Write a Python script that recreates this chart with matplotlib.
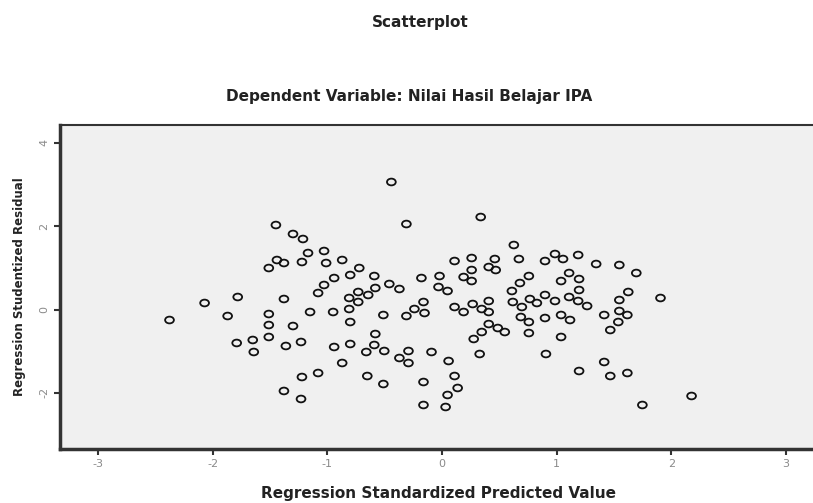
import numpy as np
import matplotlib
matplotlib.use("Agg")
import matplotlib.pyplot as plt
from matplotlib.path import Path
from matplotlib.transforms import Affine2D

plt.rcParams['font.family'] = ['Liberation Sans', 'DejaVu Sans']
plt.rcParams['axes.unicode_minus'] = False

# regression standardized predicted value (x) and studentized residual (y)
pred = [
    -2.377, -2.071, -1.782, -1.870, -1.511, -1.511, -1.511, -1.300, -1.791, -1.651,
    -1.642, -1.362, -1.230, -1.222, -1.081, -1.379, -1.230, -1.379, -1.151, -1.081,
    -1.029, -1.449, -1.300, -1.213, -1.169, -1.029, -1.440, -1.379, -1.511, -1.222,
    -1.011, -0.871, -0.722, -0.801, -0.941, -0.591, -0.460, -0.372, -0.582, -0.731,
    -0.644, -0.810, -0.731, -0.810, -0.950, -0.512, -0.801, -0.582, -0.941, -0.801,
    -0.591, -0.661, -0.504, -0.871, -0.652, -0.512, -0.180, -0.022, -0.031, 0.048,
    -0.162, -0.241, -0.153, -0.311, -0.293, -0.372, -0.293, -0.092, 0.057, -0.162,
    0.109, 0.136, 0.048, -0.162, 0.031, -0.442, -0.311, 0.337, 0.109, 0.258,
    0.460, 0.407, 0.468, 0.258, 0.188, 0.258, 0.109, 0.188, 0.267, 0.407,
    0.346, 0.407, 0.407, 0.346, 0.276, 0.486, 0.547, 0.328, 0.626, 0.670,
    0.898, 0.985, 1.055, 1.187, 1.344, 1.546, 1.694, 0.757, 0.679, 0.609,
    1.108, 1.038, 1.195, 1.195, 0.617, 0.696, 0.766, 0.827, 0.898, 0.985,
    1.108, 1.187, 1.265, 1.624, 1.546, 1.905, 0.687, 0.757, 0.898, 1.038,
    1.116, 1.414, 1.546, 1.616, 1.537, 1.467, 0.757, 1.038, 0.906, 1.414,
    1.195, 1.467, 1.616, 2.176, 1.747,
]
resid = [
    -0.252, 0.156, 0.300, -0.156, -0.108, -0.372, -0.659, -0.396, -0.803, -0.731,
    -1.019, -0.875, -0.779, -1.619, -1.523, -1.954, -2.146, 0.252, -0.060, 0.396,
    0.588, 2.026, 1.811, 1.691, 1.355, 1.403, 1.187, 1.115, 0.995, 1.139,
    1.115, 1.187, 0.995, 0.827, 0.755, 0.803, 0.612, 0.492, 0.516, 0.420,
    0.348, 0.276, 0.180, 0.012, -0.060, -0.132, -0.300, -0.588, -0.899, -0.827,
    -0.851, -1.019, -0.995, -1.283, -1.595, -1.787, 0.755, 0.803, 0.540, 0.444,
    0.180, 0.012, -0.084, -0.156, -0.995, -1.163, -1.283, -1.019, -1.235, -1.739,
    -1.595, -1.882, -2.050, -2.290, -2.338, 3.058, 2.050, 2.218, 1.163, 1.235,
    1.211, 1.019, 0.947, 0.947, 0.779, 0.683, 0.060, -0.060, 0.132, 0.204,
    0.012, -0.060, -0.348, -0.540, -0.707, -0.444, -0.540, -1.067, 1.547, 1.211,
    1.163, 1.331, 1.211, 1.307, 1.091, 1.067, 0.875, 0.803, 0.635, 0.444,
    0.875, 0.683, 0.731, 0.468, 0.180, 0.060, 0.252, 0.156, 0.348, 0.204,
    0.300, 0.204, 0.084, 0.420, 0.228, 0.276, -0.180, -0.300, -0.204, -0.132,
    -0.252, -0.132, -0.036, -0.132, -0.300, -0.492, -0.564, -0.659, -1.067, -1.259,
    -1.475, -1.595, -1.523, -2.074, -2.290,
]

xticks = [-3, -2, -1, 0, 1, 2, 3]
yticks = [-2, 0, 2, 4]

# the source picture is stretched sideways, so the circles are a bit wide
ellipse = Affine2D().scale(1.3, 1.0).transform_path(Path.unit_circle())

fig = plt.figure(figsize=(8.13, 5.03), dpi=100)
ax = fig.add_axes([0.0738, 0.1074, 0.93, 0.644])
ax.set_facecolor('#f0f0f0')

ax.scatter(pred, resid, s=40, marker=ellipse, facecolors='none',
           edgecolors='#111111', linewidths=1.3)

ax.set_xlim(-3.332, 3.262)
ax.set_ylim(-3.345, 4.424)
ax.set_xticks(xticks)
ax.set_yticks(yticks)
ax.tick_params(direction='out', length=4, width=1.5, color='#333333',
               labelsize=8, labelcolor='#8a8a8a')
for lbl in ax.get_yticklabels():
    lbl.set_rotation(90)
    lbl.set_va('center')
for lbl in ax.get_xticklabels() + ax.get_yticklabels():
    lbl.set_family('DejaVu Sans')

ax.spines['right'].set_visible(False)
ax.spines['left'].set_linewidth(2.5)
ax.spines['bottom'].set_linewidth(2.5)
ax.spines['top'].set_linewidth(1.5)
for s in ['left', 'bottom', 'top']:
    ax.spines[s].set_color('#333333')

ax.set_xlabel('Regression Standardized Predicted Value', fontsize=11,
              fontweight='bold', color='#222222', labelpad=12, family='DejaVu Sans')
ax.set_ylabel('Regression Studentized Residual', fontsize=8.5,
              fontweight='bold', color='#222222', labelpad=10, family='DejaVu Sans')

fig.text(0.517, 0.955, 'Scatterplot', ha='center', va='center',
         fontsize=11, fontweight='bold', color='#222222', family='DejaVu Sans')
fig.text(0.503, 0.809, 'Dependent Variable: Nilai Hasil Belajar IPA', ha='center',
         va='center', fontsize=11, fontweight='bold', color='#222222',
         family='DejaVu Sans')

fig.savefig('out.png', dpi=100)
